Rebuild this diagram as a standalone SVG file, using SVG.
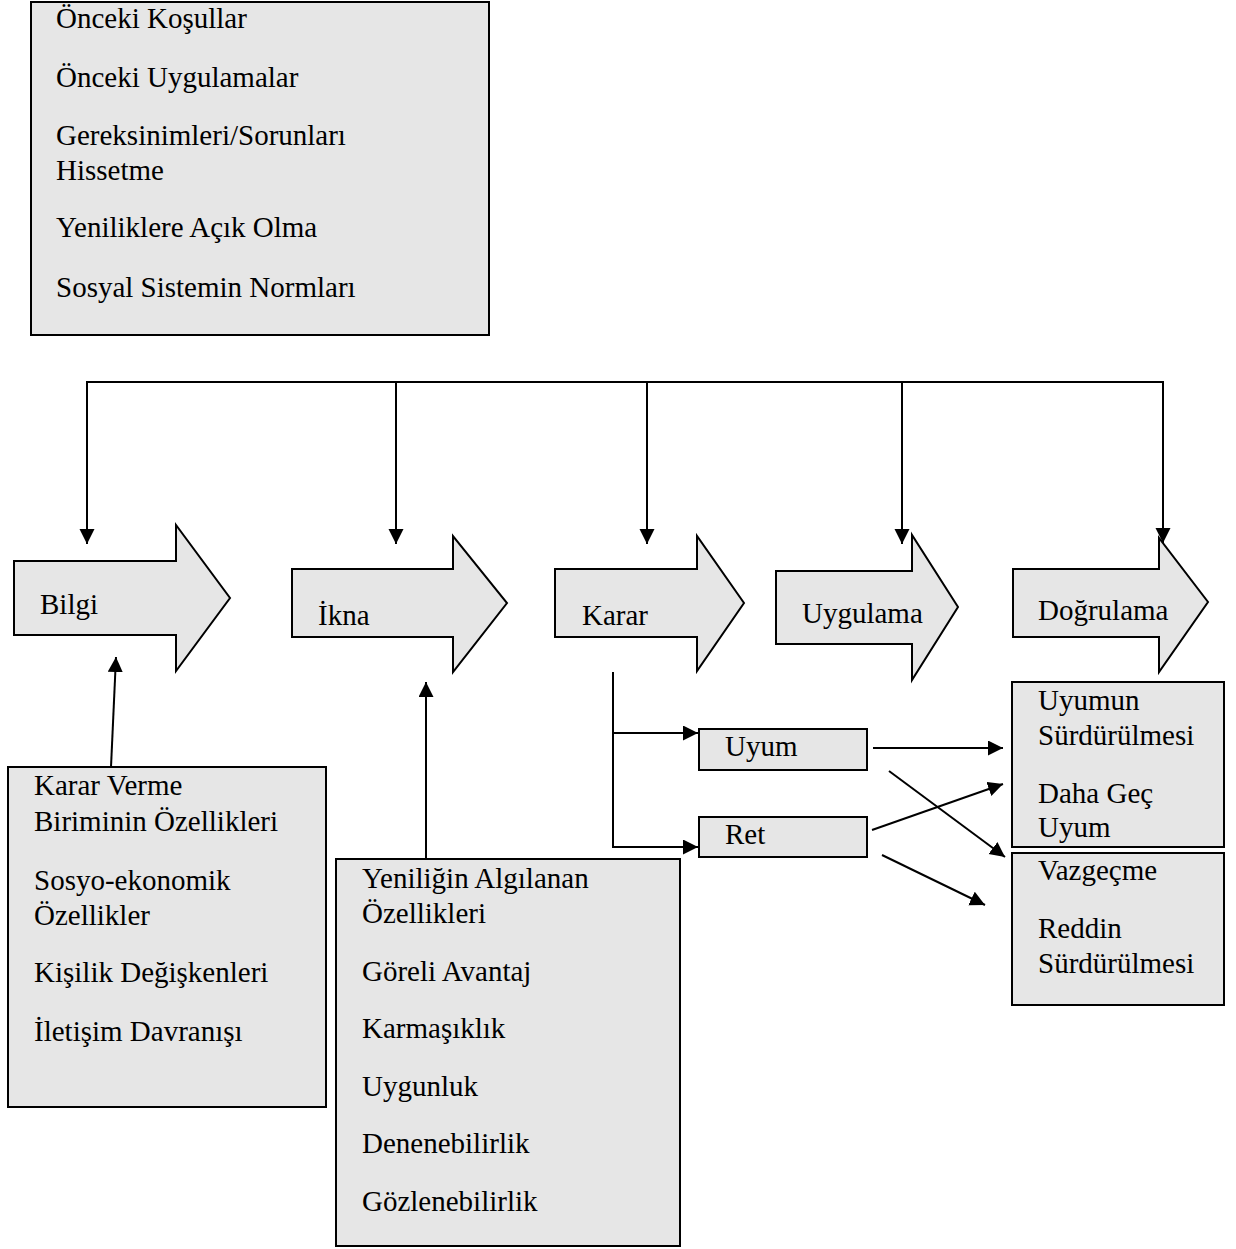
<svg xmlns="http://www.w3.org/2000/svg" width="1236" height="1249" viewBox="0 0 1236 1249">
<style>
.box{fill:#e6e6e6;stroke:#000;stroke-width:2}
.t{font-family:"Liberation Serif","Times New Roman",serif;font-size:29px;fill:#000}
.c{fill:none;stroke:#000;stroke-width:2}
</style>
<defs>
<marker id="ah" markerWidth="16" markerHeight="16" refX="15" refY="7.5" orient="auto" markerUnits="userSpaceOnUse">
<path d="M0,0 L15,7.5 L0,15 Z" fill="#000"/>
</marker>
</defs>
<rect width="1236" height="1249" fill="#fff"/>
<g id="onceki-kosullar">
<rect class="box" x="31" y="2" width="458" height="333"/>
<text class="t" x="56" y="28">Önceki Koşullar</text>
<text class="t" x="56" y="87">Önceki Uygulamalar</text>
<text class="t" x="56" y="145">Gereksinimleri/Sorunları</text>
<text class="t" x="56" y="180">Hissetme</text>
<text class="t" x="56" y="237">Yeniliklere Açık Olma</text>
<text class="t" x="56" y="297">Sosyal Sistemin Normları</text>
</g>
<g id="bilgi">
<polygon class="box" points="14,561 176,561 176,525 230,598 176,671 176,635 14,635"/>
<text class="t" x="40" y="614">Bilgi</text>
</g>
<g id="ikna">
<polygon class="box" points="292,569 453,569 453,536 507,603 453,672 453,637 292,637"/>
<text class="t" x="318" y="625">İkna</text>
</g>
<g id="karar">
<polygon class="box" points="555,569 697,569 697,536 744,603 697,671 697,637 555,637"/>
<text class="t" x="582" y="625">Karar</text>
</g>
<g id="uygulama">
<polygon class="box" points="776,571 912,571 912,535 958,607 912,680 912,644 776,644"/>
<text class="t" x="802" y="623">Uygulama</text>
</g>
<g id="dogrulama">
<polygon class="box" points="1013,569 1159,569 1159,538 1208,602 1159,672 1159,637 1013,637"/>
<text class="t" x="1038" y="620">Doğrulama</text>
</g>
<g id="karar-verme-birimi">
<rect class="box" x="8" y="767" width="318" height="340"/>
<text class="t" x="34" y="795">Karar Verme</text>
<text class="t" x="34" y="831">Biriminin Özellikleri</text>
<text class="t" x="34" y="890">Sosyo-ekonomik</text>
<text class="t" x="34" y="925">Özellikler</text>
<text class="t" x="34" y="982">Kişilik Değişkenleri</text>
<text class="t" x="34" y="1041">İletişim Davranışı</text>
</g>
<g id="yeniligin-ozellikleri">
<rect class="box" x="336" y="859" width="344" height="387"/>
<text class="t" x="362" y="888">Yeniliğin Algılanan</text>
<text class="t" x="362" y="923">Özellikleri</text>
<text class="t" x="362" y="981">Göreli Avantaj</text>
<text class="t" x="362" y="1038">Karmaşıklık</text>
<text class="t" x="362" y="1096">Uygunluk</text>
<text class="t" x="362" y="1153">Denenebilirlik</text>
<text class="t" x="362" y="1211">Gözlenebilirlik</text>
</g>
<g id="uyum">
<rect class="box" x="699" y="729" width="168" height="41"/>
<text class="t" x="725" y="756">Uyum</text>
</g>
<g id="ret">
<rect class="box" x="699" y="817" width="168" height="40"/>
<text class="t" x="725" y="844">Ret</text>
</g>
<g id="uyumun-surdurulmesi">
<rect class="box" x="1012" y="682" width="212" height="165"/>
<text class="t" x="1038" y="710">Uyumun</text>
<text class="t" x="1038" y="745">Sürdürülmesi</text>
<text class="t" x="1038" y="803">Daha Geç</text>
<text class="t" x="1038" y="837">Uyum</text>
</g>
<g id="vazgecme">
<rect class="box" x="1012" y="853" width="212" height="152"/>
<text class="t" x="1038" y="880">Vazgeçme</text>
<text class="t" x="1038" y="938">Reddin</text>
<text class="t" x="1038" y="973">Sürdürülmesi</text>
</g>
<g id="connectors">
<path class="c" d="M87,382 H1163"/>
<path class="c" d="M87,381 V544" marker-end="url(#ah)"/>
<path class="c" d="M396,382 V544" marker-end="url(#ah)"/>
<path class="c" d="M647,382 V544" marker-end="url(#ah)"/>
<path class="c" d="M902,382 V544" marker-end="url(#ah)"/>
<path class="c" d="M1163,381 V543" marker-end="url(#ah)"/>
<path class="c" d="M111,767 L116,657" marker-end="url(#ah)"/>
<path class="c" d="M426,859 V682" marker-end="url(#ah)"/>
<path class="c" d="M613,672 V848"/>
<path class="c" d="M612,733 H698" marker-end="url(#ah)"/>
<path class="c" d="M612,847 H698" marker-end="url(#ah)"/>
<path class="c" d="M873,748 H1003" marker-end="url(#ah)"/>
<path class="c" d="M889,771 L1005,857" marker-end="url(#ah)"/>
<path class="c" d="M872,830 L1003,784" marker-end="url(#ah)"/>
<path class="c" d="M882,855 L985,905" marker-end="url(#ah)"/>
</g>
</svg>
